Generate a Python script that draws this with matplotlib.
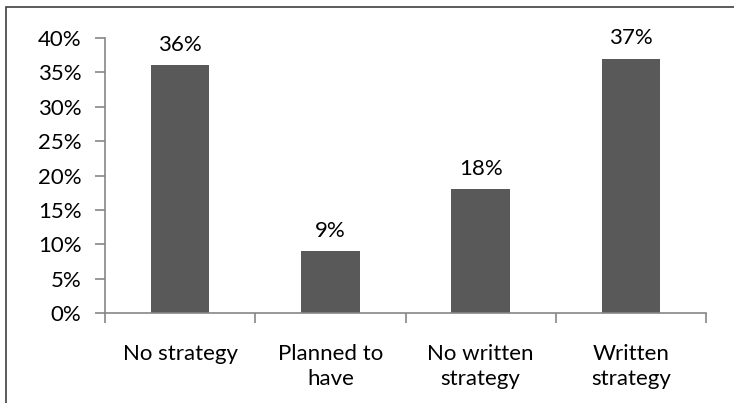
import matplotlib.pyplot as plt
import matplotlib as mpl
from matplotlib.patches import Rectangle

mpl.rcParams['font.family'] = ['Lato', 'DejaVu Sans']

categories = ['No strategy', 'Planned to\nhave', 'No written\nstrategy', 'Written\nstrategy']
values = [36, 9, 18, 37]
yticks = [0, 5, 10, 15, 20, 25, 30, 35, 40]

fig = plt.figure(figsize=(7.34, 4.03), dpi=100)
ax = fig.add_axes([0.143, 0.223, 0.819, 0.683])

x = range(len(categories))
ax.bar(x, values, width=0.39, color='#595959')
for i, v in zip(x, values):
    ax.text(i, v + 1.5, '%d%%' % v, ha='center', va='bottom', fontsize=16, color='black')

ax.set_xlim(-0.5, len(categories) - 0.5)
ax.set_ylim(0, 40)
ax.set_yticks(yticks)
ax.set_yticklabels(['%d%%' % t for t in yticks], fontsize=16)
ax.set_xticks([i - 0.5 for i in range(len(categories) + 1)], minor=False)
ax.set_xticklabels([])
ax.set_xticks(list(x), minor=True)
ax.set_xticklabels(categories, minor=True, fontsize=16, linespacing=1.35)
ax.tick_params(axis='x', which='minor', length=0, pad=22)
ax.tick_params(axis='x', which='major', direction='out', length=7, color='#868686', width=1.2)
ax.tick_params(axis='y', direction='out', length=7, color='#868686', width=1.2, pad=10)

for s in ['top', 'right']:
    ax.spines[s].set_visible(False)
for s in ['left', 'bottom']:
    ax.spines[s].set_color('#868686')
    ax.spines[s].set_linewidth(1.2)

fig.patches.append(Rectangle((6 / 734, -0.05), 1.1, 1 - 7 / 403 + 0.05, transform=fig.transFigure,
                             fill=False, edgecolor='#404040', linewidth=1.2))

plt.savefig('out.png', dpi=100)
